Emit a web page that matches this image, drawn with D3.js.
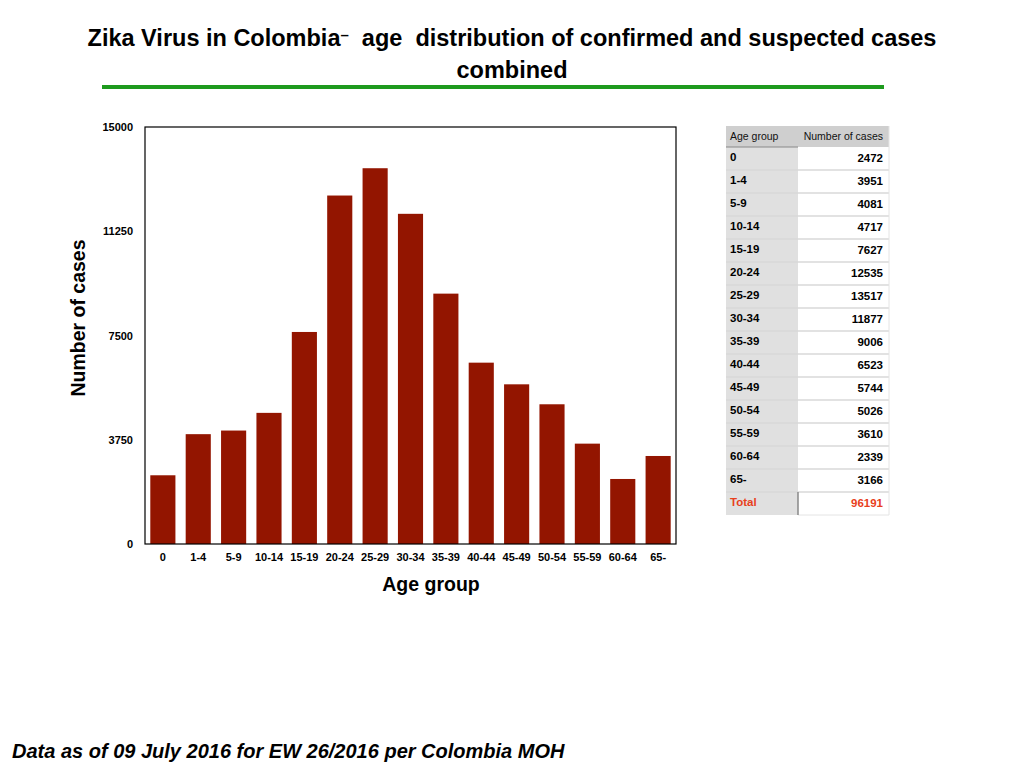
<!DOCTYPE html>
<html>
<head>
<meta charset="utf-8">
<script src="https://cdn.jsdelivr.net/npm/d3@7"></script>
<style>
  body { margin: 0; background: #fff; }
  svg { display: block; font-family: "Liberation Sans", Arial, Helvetica, sans-serif; }
</style>
</head>
<body>
<script>
const ageGroups = ["0", "1-4", "5-9", "10-14", "15-19", "20-24", "25-29", "30-34",
  "35-39", "40-44", "45-49", "50-54", "55-59", "60-64", "65-"];
const cases = [2472, 3951, 4081, 4717, 7627, 12535, 13517, 11877,
  9006, 6523, 5744, 5026, 3610, 2339, 3166];
const yTicks = [0, 3750, 7500, 11250, 15000];
const totalCases = 96191;

const W = 1024, H = 768;
const plot = { left: 145, right: 676, top: 127, bottom: 544 };

const svg = d3.select("body").append("svg")
  .attr("width", W).attr("height", H)
  .attr("viewBox", [0, 0, W, H]);

// title (the dash after "Colombia" sits raised and small)
const title = svg.append("text")
  .attr("text-anchor", "middle")
  .style("white-space", "pre")
  .attr("font-size", 23.5).attr("font-weight", "bold");
title.append("tspan").attr("x", 512).attr("y", 46).text("Zika Virus in Colombia");
title.append("tspan").attr("dy", -6).attr("font-size", 15).text("\u2013");
title.append("tspan").attr("dy", 6)
  .text("  age  distribution of confirmed and suspected cases");
title.append("tspan").attr("x", 512).attr("y", 78).text("combined");

svg.append("line")
  .attr("x1", 102).attr("x2", 884).attr("y1", 87).attr("y2", 87)
  .attr("stroke", "#1e9a1e").attr("stroke-width", 4);

// scales
const x = d3.scaleBand()
  .domain(ageGroups)
  .range([plot.left, plot.right])
  .paddingInner(0.29)
  .paddingOuter(0.15);
const y = d3.scaleLinear()
  .domain([0, 15000])
  .range([plot.bottom, plot.top]);

// bars
svg.append("g")
  .attr("fill", "#931500")
  .selectAll("rect")
  .data(ageGroups)
  .join("rect")
  .attr("x", d => x(d))
  .attr("width", x.bandwidth())
  .attr("y", (d, i) => y(cases[i]))
  .attr("height", (d, i) => y(0) - y(cases[i]));

// frame
svg.append("rect")
  .attr("x", plot.left).attr("y", plot.top)
  .attr("width", plot.right - plot.left).attr("height", plot.bottom - plot.top)
  .attr("fill", "none").attr("stroke", "#000").attr("stroke-width", 1.2);

// axes
const yAxis = svg.append("g")
  .attr("transform", `translate(${plot.left},0)`)
  .call(d3.axisLeft(y).tickValues(yTicks).tickSize(0).tickPadding(12).tickFormat(d3.format("d")));
yAxis.select(".domain").remove();
yAxis.selectAll("text")
  .attr("font-family", "Liberation Sans, Arial, sans-serif")
  .attr("font-size", 11).attr("font-weight", "bold").attr("fill", "#000");

const xAxis = svg.append("g")
  .attr("transform", `translate(0,${plot.bottom})`)
  .call(d3.axisBottom(x).tickSize(0).tickPadding(9));
xAxis.select(".domain").remove();
xAxis.selectAll("text")
  .attr("font-family", "Liberation Sans, Arial, sans-serif")
  .attr("font-size", 11).attr("font-weight", "bold").attr("fill", "#000");

// axis titles
svg.append("text")
  .attr("x", 431).attr("y", 591)
  .attr("text-anchor", "middle")
  .attr("font-size", 19.5).attr("font-weight", "bold")
  .text("Age group");

svg.append("text")
  .attr("transform", "translate(85,318) rotate(-90)")
  .attr("text-anchor", "middle")
  .attr("font-size", 19.5).attr("font-weight", "bold")
  .text("Number of cases");

// table
const tbl = { left: 726, mid: 798, right: 889, top: 126, headH: 21, rowH: 23 };
const rowTop = i => tbl.top + tbl.headH + i * tbl.rowH;
const nRows = ageGroups.length + 1;

const table = svg.append("g");
table.append("rect")
  .attr("x", tbl.left).attr("y", tbl.top)
  .attr("width", tbl.right - tbl.left).attr("height", tbl.headH)
  .attr("fill", "#cfcfcf");
table.append("rect")
  .attr("x", tbl.left).attr("y", rowTop(0))
  .attr("width", tbl.mid - tbl.left).attr("height", nRows * tbl.rowH)
  .attr("fill", "#e0e0e0");
table.append("rect")
  .attr("x", tbl.mid).attr("y", rowTop(0))
  .attr("width", tbl.right - tbl.mid).attr("height", nRows * tbl.rowH)
  .attr("fill", "#fff");

// row separators
table.append("g")
  .selectAll("line")
  .data(d3.range(1, nRows))
  .join("line")
  .attr("x1", tbl.left).attr("x2", tbl.right)
  .attr("y1", d => rowTop(d)).attr("y2", d => rowTop(d))
  .attr("stroke", "#d8d8d8").attr("stroke-width", 1.5);
table.append("line")
  .attr("x1", tbl.mid).attr("x2", tbl.right)
  .attr("y1", rowTop(nRows)).attr("y2", rowTop(nRows))
  .attr("stroke", "#e4e4e4");
table.append("line")
  .attr("x1", tbl.right).attr("x2", tbl.right)
  .attr("y1", tbl.top).attr("y2", rowTop(nRows))
  .attr("stroke", "#e4e4e4");
table.append("line")
  .attr("x1", tbl.left).attr("x2", tbl.mid)
  .attr("y1", rowTop(0)).attr("y2", rowTop(0))
  .attr("stroke", "#888").attr("stroke-width", 1);
table.append("line")
  .attr("x1", tbl.mid).attr("x2", tbl.mid)
  .attr("y1", rowTop(nRows - 1)).attr("y2", rowTop(nRows))
  .attr("stroke", "#888").attr("stroke-width", 1.5);

// header text
table.append("text")
  .attr("x", tbl.left + 4).attr("y", tbl.top + 14)
  .attr("font-size", 10.5).attr("fill", "#111")
  .text("Age group");
table.append("text")
  .attr("x", tbl.right - 6).attr("y", tbl.top + 14)
  .attr("text-anchor", "end")
  .attr("font-size", 10.5).attr("fill", "#111")
  .text("Number of cases");

const rows = ageGroups.map((g, i) => ({ g, v: cases[i], total: false }))
  .concat([{ g: "Total", v: totalCases, total: true }]);

table.append("g")
  .selectAll("text")
  .data(rows)
  .join("text")
  .attr("x", tbl.left + 4)
  .attr("y", (d, i) => rowTop(i) + 14)
  .attr("font-size", 11.5).attr("font-weight", "bold")
  .attr("fill", d => d.total ? "#e8401c" : "#000")
  .text(d => d.g);

table.append("g")
  .selectAll("text")
  .data(rows)
  .join("text")
  .attr("x", tbl.right - 6)
  .attr("y", (d, i) => rowTop(i) + 15)
  .attr("text-anchor", "end")
  .attr("font-size", 11.5).attr("font-weight", "bold")
  .attr("fill", d => d.total ? "#e8401c" : "#000")
  .text(d => d.v);

// footer
svg.append("text")
  .attr("x", 12).attr("y", 758)
  .attr("font-size", 20).attr("font-weight", "bold").attr("font-style", "italic")
  .text("Data as of 09 July 2016 for EW 26/2016 per Colombia MOH");
</script>
</body>
</html>
